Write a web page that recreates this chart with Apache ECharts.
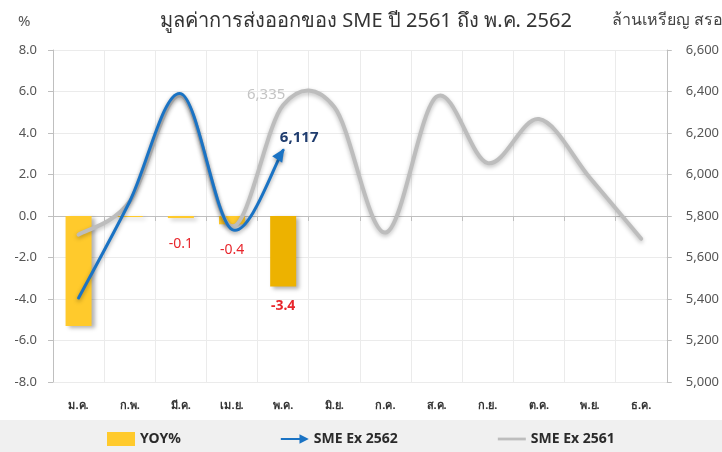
<!DOCTYPE html>
<html>
<head>
<meta charset="utf-8">
<script src="https://cdn.jsdelivr.net/npm/echarts@6/dist/echarts.min.js"></script>
<style>
  html, body { margin: 0; padding: 0; background: #fff; }
  #chart { width: 722px; height: 452px; }
</style>
</head>
<body>
<div id="chart"></div>
<script>
// เดือน
var months = ['ม.ค.', 'ก.พ.', 'มี.ค.', 'เม.ย.', 'พ.ค.', 'มิ.ย.', 'ก.ค.', 'ส.ค.', 'ก.ย.', 'ต.ค.', 'พ.ย.', 'ธ.ค.'];
// YOY% (แท่ง)
var yoy = [-5.3, -0.05, -0.1, -0.4, -3.4];
// มูลค่าส่งออก ล้านเหรียญ สรอ.
var sme2562 = [5405, 5870, 6390, 5735, 6117];
var sme2561 = [5710, 5870, 6380, 5750, 6335, 6325, 5720, 6375, 6055, 6267, 5983, 5690];
// ค่าที่มีป้ายกำกับ
var yoyLabelIdx = [2, 3, 4];
var grayLabelIdx = 4;

var FONT = "Tahoma, 'Noto Sans', 'DejaVu Sans', sans-serif";
var BLUE = '#1A73C4';
var GRAY = '#BDBDBD';

var myChart = echarts.init(document.getElementById('chart'));

var barData = yoy.map(function (v, i) {
    var item = {
        value: v,
        itemStyle: { color: i === 4 ? '#EDB200' : '#FFCA2C' }
    };
    if (yoyLabelIdx.indexOf(i) >= 0) {
        item.label = {
            show: true,
            position: 'bottom',
            distance: i === 4 ? 12 : 19,
            color: '#E8262C',
            fontSize: 14,
            fontWeight: i === 4 ? 'bold' : 'normal',
            fontFamily: FONT
        };
    }
    return item;
});

// เส้นโค้งแบบ Excel (Catmull-Rom, 1/6)
function curve(pts) {
    var d = 'M' + pts[0][0] + ',' + pts[0][1];
    var c2 = pts[0];
    for (var i = 0; i < pts.length - 1; i++) {
        var p0 = pts[i - 1] || pts[i], p1 = pts[i], p2 = pts[i + 1], p3 = pts[i + 2] || pts[i + 1];
        var c1 = [p1[0] + (p2[0] - p0[0]) / 6, p1[1] + (p2[1] - p0[1]) / 6];
        c2 = [p2[0] - (p3[0] - p1[0]) / 6, p2[1] - (p3[1] - p1[1]) / 6];
        d += ' C' + c1[0] + ',' + c1[1] + ' ' + c2[0] + ',' + c2[1] + ' ' + p2[0] + ',' + p2[1];
    }
    return { d: d, lastCp: c2 };
}

function lineShadow(a) {
    return { shadowColor: 'rgba(0,0,0,' + a + ')', shadowBlur: 4, shadowOffsetY: 2 };
}

function renderGray(params, api) {
    if (params.dataIndex !== 0) return null;
    var pts = sme2561.map(function (v, i) { return api.coord([i, v]); });
    var c = curve(pts);
    var lp = pts[grayLabelIdx];
    return {
        type: 'group',
        children: [
            {
                type: 'path',
                shape: { pathData: c.d },
                style: Object.assign({ fill: null, stroke: GRAY, lineWidth: 4, lineCap: 'round', lineJoin: 'round' }, lineShadow(0.25))
            },
            {
                type: 'text',
                x: lp[0] - 17, y: lp[1] - 10,
                style: {
                    text: echarts.format.addCommas(sme2561[grayLabelIdx]),
                    fill: '#C4C4C4', fontSize: 15, fontFamily: FONT,
                    align: 'center', verticalAlign: 'middle'
                }
            }
        ]
    };
}

function renderBlue(params, api) {
    if (params.dataIndex !== 0) return null;
    var pts = sme2562.map(function (v, i) { return api.coord([i, v]); });
    var c = curve(pts);
    var end = pts[pts.length - 1];
    var ang = Math.atan2(end[1] - c.lastCp[1], end[0] - c.lastCp[0]);
    var ux = Math.cos(ang), uy = Math.sin(ang);
    var tip = [end[0] + ux * 2, end[1] + uy * 2];
    var base = [tip[0] - ux * 13, tip[1] - uy * 13];
    var head = [tip, [base[0] - uy * 6, base[1] + ux * 6], [base[0] + uy * 6, base[1] - ux * 6]];
    return {
        type: 'group',
        children: [
            {
                type: 'path',
                shape: { pathData: c.d },
                style: Object.assign({ fill: null, stroke: BLUE, lineWidth: 3, lineCap: 'round', lineJoin: 'round' }, lineShadow(0.35))
            },
            {
                type: 'polygon',
                shape: { points: head },
                style: Object.assign({ fill: BLUE }, lineShadow(0.3))
            },
            {
                type: 'text',
                x: end[0] + 16, y: end[1] - 12,
                style: {
                    text: echarts.format.addCommas(sme2562[sme2562.length - 1]),
                    fill: '#1F3C6E', fontSize: 15, fontWeight: 'bold', fontFamily: FONT,
                    align: 'center', verticalAlign: 'middle'
                }
            }
        ]
    };
}

var option = {
    backgroundColor: '#fff',
    animation: false,
    textStyle: { fontFamily: FONT },
    grid: { left: 53, right: 53, top: 50, bottom: 70 },
    graphic: [
        { type: 'rect', left: 0, top: 420, shape: { width: 722, height: 32 }, style: { fill: '#F0F0F0' }, z: -1 },
        { type: 'text', left: 18, top: 14, style: { text: '%', fontSize: 15, fill: '#555', fontFamily: FONT } },
        { type: 'text', left: 612, top: 12, style: { text: 'ล้านเหรียญ สรอ.', fontSize: 16, fill: '#444', fontFamily: FONT } }
    ],
    title: {
        text: 'มูลค่าการส่งออกของ SME ปี 2561 ถึง พ.ค. 2562',
        left: 361,
        textAlign: 'center',
        top: 6,
        textStyle: { fontSize: 20, fontWeight: 'normal', color: '#333', fontFamily: FONT }
    },
    legend: {
        left: 102,
        top: 427,
        itemGap: 100,
        itemWidth: 28,
        itemHeight: 14,
        textStyle: { fontSize: 14, fontWeight: 'bold', color: '#2A2A2A', fontFamily: FONT },
        data: [
            { name: 'YOY%', icon: 'rect', itemStyle: { color: '#FFCA2C' } },
            { name: 'SME Ex 2562', icon: 'path://M0,4 L20,4 L20,0 L30,5 L20,10 L20,6 L0,6 Z', itemStyle: { color: BLUE } },
            { name: 'SME Ex 2561', icon: 'path://M0,0 L30,0 L30,3 L0,3 Z', itemStyle: { color: GRAY } }
        ]
    },
    xAxis: {
        type: 'category',
        data: months,
        boundaryGap: true,
        axisLine: { lineStyle: { color: '#BFBFBF' } },
        axisTick: { show: true, length: 5, lineStyle: { color: '#BFBFBF' } },
        axisLabel: { color: '#333', fontSize: 11, fontWeight: 'bold', margin: 18 },
        splitLine: { show: true, lineStyle: { color: '#EBEBEB' } }
    },
    yAxis: [
        {
            type: 'value',
            min: -8,
            max: 8,
            interval: 2,
            axisLine: { show: true, lineStyle: { color: '#BFBFBF' } },
            axisTick: { show: true, length: 5, lineStyle: { color: '#BFBFBF' } },
            axisLabel: { color: '#555', fontSize: 13, margin: 16, formatter: function (v) { return v.toFixed(1); } },
            splitLine: { show: true, lineStyle: { color: '#EBEBEB' } }
        },
        {
            type: 'value',
            min: 5000,
            max: 6600,
            interval: 200,
            axisLine: { show: true, lineStyle: { color: '#BFBFBF' } },
            axisTick: { show: true, length: 5, lineStyle: { color: '#BFBFBF' } },
            axisLabel: { color: '#555', fontSize: 13, margin: 19, formatter: function (v) { return echarts.format.addCommas(v); } },
            splitLine: { show: false }
        }
    ],
    series: [
        {
            name: 'YOY%',
            type: 'bar',
            yAxisIndex: 0,
            barWidth: 26,
            data: barData,
            itemStyle: {
                shadowColor: 'rgba(0,0,0,0.3)',
                shadowBlur: 4,
                shadowOffsetX: 3,
                shadowOffsetY: 2
            },
            z: 1
        },
        {
            name: 'SME Ex 2562',
            type: 'custom',
            yAxisIndex: 1,
            renderItem: renderBlue,
            data: sme2562.map(function (v, i) { return [i, v]; }),
            encode: { x: 0, y: 1 },
            itemStyle: { color: BLUE },
            z: 4
        },
        {
            name: 'SME Ex 2561',
            type: 'custom',
            yAxisIndex: 1,
            renderItem: renderGray,
            data: sme2561.map(function (v, i) { return [i, v]; }),
            encode: { x: 0, y: 1 },
            itemStyle: { color: GRAY },
            z: 3
        }
    ]
};

myChart.setOption(option);
</script>
</body>
</html>
